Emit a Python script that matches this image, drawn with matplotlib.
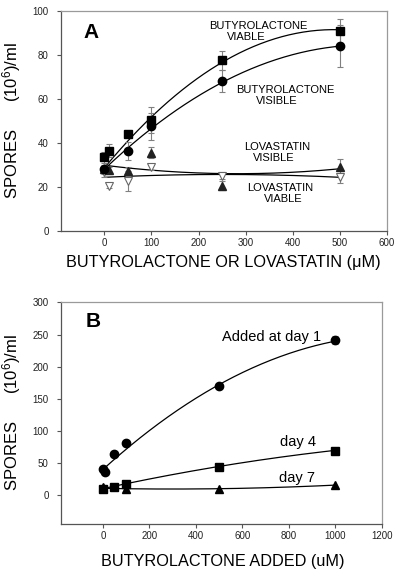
import numpy as np
import matplotlib
matplotlib.use("Agg")
import matplotlib.pyplot as plt

plt.rcParams['font.family'] = ['Liberation Sans', 'DejaVu Sans']
plt.rcParams['mathtext.default'] = 'regular'

# Panel A data (uM, 10^6 spores/ml)
conc_a = [0, 10, 50, 100, 250, 500]
buty_viable = [33.5, 36.5, 44, 50.5, 77.5, 91]
buty_viable_err = [2.5, 3, 1, 6, 4.5, 5.5]
buty_visible_x = [0, 50, 100, 250, 500]
buty_visible = [28, 36.3, 47.5, 68, 84]
buty_visible_err = [2, 4, 6, 5, 9.5]
lova_visible = [28, 27.5, 27, 35.5, 20.5, 29]
lova_visible_err = [1.5, 1.5, 2, 2.5, 2, 3.5]
lova_viable = [26.5, 20.5, 22.5, 29, 25, 24.5]
lova_viable_err = [2, 1, 4.5, 1.5, 1.5, 3]

# fitted lines
fit_a_x = [0, 100, 250, 500]
fit_buty_viable = [28.5, 52, 76.5, 91.5]
fit_buty_visible = [28, 46.5, 67.5, 84]
fit_lova_x = [0, 250, 500]
fit_lova_visible = [29.8, 26.0, 28.2]
fit_lova_viable = [24.3, 25.6, 24.3]

# Panel B data
day1_x = [0, 10, 50, 100, 500, 1000]
day1 = [40.5, 37, 64, 81, 170.5, 241.5]
day1_err = [2, 2, 2, 2, 3, 6]
day4_x = [0, 50, 100, 500, 1000]
day4 = [10, 13, 17, 44.6, 69.5]
day7_x = [0, 100, 500, 1000]
day7 = [13.5, 10, 10.4, 16]

fit_b_x = [0, 100, 500, 1000]
fit_day1 = [37, 76, 170.5, 240]
fit_b2_x = [0, 500, 1000]
fit_day4 = [10.5, 45, 70]
fit_day7 = [11, 10.4, 16]

ERR = '#808080'


def smooth(ax, xs, ys, x0, x1):
    c = np.polyfit(xs, ys, 2)
    xx = np.linspace(x0, x1, 200)
    ax.plot(xx, np.polyval(c, xx), color='black', lw=0.9, zorder=2)


def style(ax):
    for s in ['left', 'bottom']:
        ax.spines[s].set_color('#555555')
    for s in ['top', 'right']:
        ax.spines[s].set_color('#9a9a9a')
    for s in ax.spines.values():
        s.set_linewidth(0.9)
    ax.tick_params(direction='out', length=3, width=0.8, color='#555555',
                   labelsize=7, labelcolor='#222222')
    ax.tick_params(axis='y', pad=6)
    ax.tick_params(axis='x', pad=2)


fig = plt.figure(figsize=(4, 5.74), dpi=100)

# ---- Panel A
ax = fig.add_axes([0.1525, 0.5981, 0.815, 0.3827])
smooth(ax, fit_a_x, fit_buty_viable, 0, 500)
smooth(ax, fit_a_x, fit_buty_visible, 0, 500)
smooth(ax, fit_lova_x, fit_lova_visible, 0, 500)
smooth(ax, fit_lova_x, fit_lova_viable, 0, 500)

ek = dict(ecolor=ERR, elinewidth=0.8, capsize=2.5, capthick=0.8, ls='none', zorder=3)
ax.errorbar(conc_a, lova_viable, yerr=lova_viable_err, marker='v', ms=5.5,
            mfc='white', mec='#666666', mew=0.8, **ek)
ax.errorbar(conc_a, lova_visible, yerr=lova_visible_err, marker='^', ms=5.5,
            mfc='#222222', mec='#222222', **ek)
ax.errorbar(buty_visible_x, buty_visible, yerr=buty_visible_err, marker='o', ms=6,
            mfc='black', mec='black', **ek)
ax.errorbar(conc_a, buty_viable, yerr=buty_viable_err, marker='s', ms=5.8,
            mfc='black', mec='black', **ek)

ax.set_xlim(-92, 600)
ax.set_ylim(0, 100)
ax.set_xticks([0, 100, 200, 300, 400, 500, 600])
ax.set_yticks([0, 20, 40, 60, 80, 100])
style(ax)
ax.set_xlabel('BUTYROLACTONE OR LOVASTATIN (\u03bcM)', fontsize=11.7)
ax.xaxis.set_label_coords(0.498, -0.112)
ax.set_ylabel('SPORES      (10$^6$)/ml', fontsize=12)
ax.yaxis.set_label_coords(-0.118, 0.5)

ax.text(-29, 90.3, 'A', fontsize=15, fontweight='bold', ha='center', va='center')
tk = dict(fontsize=8, ha='center', va='center')
ax.text(327, 93.2, 'BUTYROLACTONE', **tk)
ax.text(302, 88.3, 'VIABLE', **tk)
ax.text(384, 64.0, 'BUTYROLACTONE', **tk)
ax.text(366, 59.2, 'VISIBLE', **tk)
ax.text(366, 38.2, 'LOVASTATIN', **tk)
ax.text(359, 33.0, 'VISIBLE', **tk)
ax.text(373, 19.6, 'LOVASTATIN', **tk)
ax.text(380, 14.3, 'VIABLE', **tk)

# ---- Panel B
bx = fig.add_axes([0.1525, 0.0876, 0.8017, 0.3857])
smooth(bx, fit_b_x, fit_day1, 0, 1000)
smooth(bx, fit_b2_x, fit_day4, 0, 1000)
smooth(bx, fit_b2_x, fit_day7, 0, 1000)
bx.errorbar(day1_x, day1, yerr=day1_err, marker='o', ms=6, mfc='black', mec='black', **ek)
bx.plot(day4_x, day4, 's', ms=5.3, color='black', zorder=3)
bx.plot(day7_x, day7, '^', ms=5.5, color='black', zorder=3)

bx.set_xlim(-180, 1200)
bx.set_ylim(-44, 300)
bx.set_xticks([0, 200, 400, 600, 800, 1000, 1200])
bx.set_yticks([0, 50, 100, 150, 200, 250, 300])
style(bx)
bx.set_xlabel('BUTYROLACTONE ADDED (uM)', fontsize=11.7)
bx.xaxis.set_label_coords(0.504, -0.139)
bx.set_ylabel('SPORES      (10$^6$)/ml', fontsize=12)
bx.yaxis.set_label_coords(-0.12, 0.5)

bx.text(-43, 270, 'B', fontsize=15, fontweight='bold', ha='center', va='center')
bx.text(724, 245.6, 'Added at day 1', fontsize=10.5, ha='center', va='center')
bx.text(839, 83.3, 'day 4', fontsize=10.5, ha='center', va='center')
bx.text(834, 27.4, 'day 7', fontsize=10.5, ha='center', va='center')

fig.savefig('out.png', dpi=100)
